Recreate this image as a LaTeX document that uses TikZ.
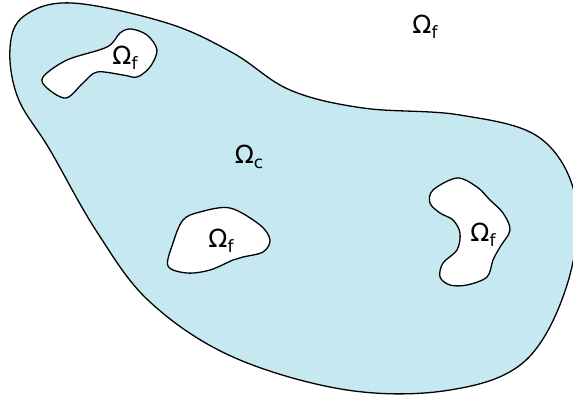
\documentclass[tikz,border=0pt]{standalone}
\usepackage{fontspec}
\setmainfont{DejaVu Sans}
\definecolor{solidblue}{RGB}{198,232,240}
\newcommand{\omsub}[1]{Ω\raisebox{-0.35ex}{\fontsize{17}{18}\selectfont #1}}
\begin{document}
\begin{tikzpicture}[x=1pt, y=-1pt, baseline]
    \useasboundingbox (0,0) rectangle (573,394);
    \clip (0,0) rectangle (573,394);
    \draw[fill=solidblue, line width=1.3pt] plot[smooth cycle, tension=0.6] coordinates {
        (10,48) (24,16) (72,3) (167,23) (233,53) (290,90) (363,108) (460,115) (540,138)
        (576,200) (567,285) (525,361) (450,390) (347,390) (233,357) (150,302) (97,232)
        (50,150) (18,98)};
    \draw[fill=white, line width=1.3pt] plot[smooth cycle, tension=0.55] coordinates {
        (43,77) (67,60) (107,47) (120,33) (131,29) (147,35) (157,50) (150,67) (137,77)
        (123,75) (97,72) (83,83) (66,98) (47,88)};
    \draw[fill=white, line width=1.3pt] plot[smooth cycle, tension=0.55] coordinates {
        (168,266) (173,243) (183,220) (200,212) (230,208) (260,225) (270,240) (263,252)
        (243,257) (233,260) (210,270) (187,273)};
    \draw[fill=white, line width=1.3pt] plot[smooth cycle, tension=0.55] coordinates {
        (457,178) (433,190) (430,203) (440,213) (453,220) (460,233) (457,250) (443,263)
        (440,277) (450,285) (467,285) (487,277) (493,260) (500,247) (510,230) (503,213)
        (490,200) (477,187)};
    \node[font=\fontsize{25}{28}\selectfont] (fluidout) at (425,27) {\omsub{f}};
    \node[font=\fontsize{25}{28}\selectfont] (solid) at (249,157) {\omsub{c}};
    \node[font=\fontsize{25}{28}\selectfont] (fluidA) at (125,58) {\omsub{f}};
    \node[font=\fontsize{25}{28}\selectfont] (fluidB) at (221,241) {\omsub{f}};
    \node[font=\fontsize{25}{28}\selectfont] (fluidC) at (483,235) {\omsub{f}};
\end{tikzpicture}
\end{document}
